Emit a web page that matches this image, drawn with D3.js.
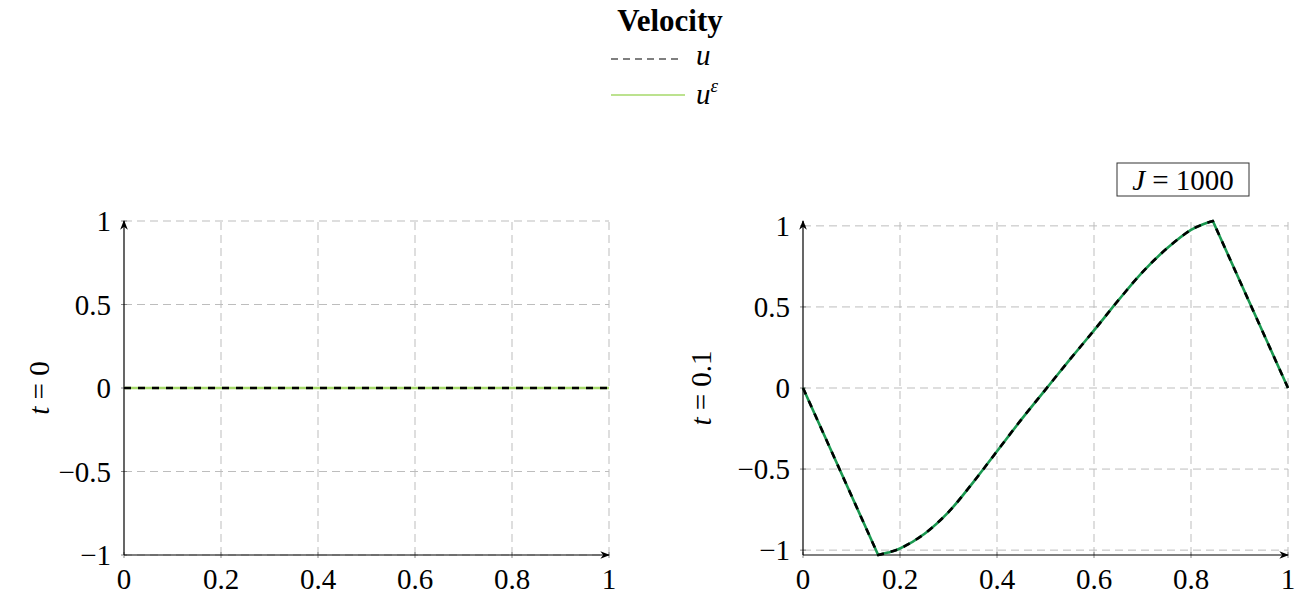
<!DOCTYPE html>
<html>
<head>
<meta charset="utf-8">
<script src="https://cdn.jsdelivr.net/npm/d3@7"></script>
<style>
  body { margin: 0; background: #fff; }
</style>
</head>
<body>
<div id="chart"></div>
<script>
// data
const xTicks = [0, 0.2, 0.4, 0.6, 0.8, 1]
const yTicks = [-1, -0.5, 0, 0.5, 1]

// t = 0 : everything is zero
const x0 = [0, 1]
const u0 = [0, 0]
const uEps0 = [0, 0]

// t = 0.1 (kinks at 0.155 and 0.845, smooth in between)
const x1 = [0, 0.155, 0.175, 0.2, 0.25, 0.3, 0.35, 0.4, 0.45, 0.5, 0.55, 0.6, 0.65, 0.7, 0.75, 0.8, 0.825, 0.845, 1]
const u1 = [0, -1.03, -1.015, -0.99, -0.9, -0.765, -0.585, -0.39, -0.195, -0.01, 0.175, 0.355, 0.54, 0.715, 0.86, 0.975, 1.01, 1.03, 0]
const uEps1 = [0, -1.03, -1.015, -0.99, -0.9, -0.765, -0.585, -0.39, -0.195, -0.01, 0.175, 0.355, 0.54, 0.715, 0.86, 0.975, 1.01, 1.03, 0]
const kinks = [0.155, 0.845]

const serif = '"Liberation Serif", "Times New Roman", serif'
const fs = 29

const svg = d3.select('#chart')
  .append('svg')
  .attr('width', 1312)
  .attr('height', 599)
  .attr('font-family', serif)

const defs = svg.append('defs')
defs.append('marker')
  .attr('id', 'arrow')
  .attr('viewBox', '0 0 10 10')
  .attr('refX', 9).attr('refY', 5)
  .attr('markerWidth', 8).attr('markerHeight', 8)
  .attr('orient', 'auto')
  .append('path')
  .attr('d', 'M0,1 L10,5 L0,9 L3,5 Z')
  .attr('fill', '#000')

// legend
svg.append('text')
  .attr('x', 670).attr('y', 31)
  .attr('text-anchor', 'middle')
  .attr('font-size', 31).attr('font-weight', 'bold')
  .text('Velocity')

svg.append('line')
  .attr('x1', 611).attr('x2', 682).attr('y1', 59).attr('y2', 59)
  .attr('stroke', '#555').attr('stroke-width', 1.3).attr('stroke-dasharray', '7,5')
svg.append('text')
  .attr('x', 696).attr('y', 65)
  .attr('font-size', fs).attr('font-style', 'italic')
  .text('u')

svg.append('line')
  .attr('x1', 611).attr('x2', 685).attr('y1', 95).attr('y2', 95)
  .attr('stroke', '#a6d96a').attr('stroke-width', 1.6)
const eps = svg.append('text')
  .attr('x', 696).attr('y', 104)
  .attr('font-size', fs).attr('font-style', 'italic')
eps.append('tspan').text('u')
eps.append('tspan').attr('font-size', 19).attr('dy', -12).text('ε')

function drawPanel(opts) {
  const x = d3.scaleLinear().domain([0, 1]).range([opts.left, opts.right])
  const y = d3.scaleLinear().domain([opts.ymin, opts.ymax]).range([opts.bottom, opts.top])
  const g = svg.append('g')

  // grid
  g.selectAll('.gx').data(xTicks.slice(1)).enter().append('line')
    .attr('x1', d => x(d)).attr('x2', d => x(d))
    .attr('y1', opts.bottom).attr('y2', opts.top)
    .attr('stroke', '#bdbdbd').attr('stroke-width', 1).attr('stroke-dasharray', '8,5')
  g.selectAll('.gy').data(yTicks).enter().append('line')
    .attr('x1', opts.left).attr('x2', opts.right)
    .attr('y1', d => y(d)).attr('y2', d => y(d))
    .attr('stroke', '#bdbdbd').attr('stroke-width', 1).attr('stroke-dasharray', '8,5')

  // tick marks
  g.selectAll('.tx').data(xTicks).enter().append('line')
    .attr('x1', d => x(d)).attr('x2', d => x(d))
    .attr('y1', opts.bottom - 3).attr('y2', opts.bottom + 3)
    .attr('stroke', '#888').attr('stroke-width', 1)
  g.selectAll('.ty').data(yTicks).enter().append('line')
    .attr('x1', opts.left - 3).attr('x2', opts.left + 3)
    .attr('y1', d => y(d)).attr('y2', d => y(d))
    .attr('stroke', '#888').attr('stroke-width', 1)

  // axes with arrows
  g.append('line')
    .attr('x1', opts.left).attr('x2', opts.right)
    .attr('y1', opts.bottom).attr('y2', opts.bottom)
    .attr('stroke', '#000').attr('stroke-width', 1.2)
    .attr('marker-end', 'url(#arrow)')
  g.append('line')
    .attr('x1', opts.left).attr('x2', opts.left)
    .attr('y1', opts.bottom).attr('y2', opts.top)
    .attr('stroke', '#000').attr('stroke-width', 1.2)
    .attr('marker-end', 'url(#arrow)')

  // tick labels
  g.selectAll('.lx').data(xTicks).enter().append('text')
    .attr('x', d => x(d)).attr('y', opts.bottom + 34)
    .attr('text-anchor', 'middle').attr('font-size', fs)
    .text(d => d3.format('')(d))
  g.selectAll('.ly').data(yTicks).enter().append('text')
    .attr('x', opts.left - 13).attr('y', d => y(d) + 10)
    .attr('text-anchor', 'end').attr('font-size', fs)
    .text(d => d < 0 ? '\u2212' + Math.abs(d) : d)

  // y label
  const lab = g.append('text')
    .attr('transform', `translate(${opts.labelX},${(opts.top + opts.bottom) / 2}) rotate(-90)`)
    .attr('text-anchor', 'middle').attr('font-size', fs)
  lab.append('tspan').attr('font-style', 'italic').text('t')
  lab.append('tspan').text(' = ' + opts.t)

  // straight pieces outside the kinks, smooth in between
  const pts = d3.zip(opts.xs, opts.u)
  const ptsE = d3.zip(opts.xs, opts.ueps)
  const lin = d3.line().x(d => x(d[0])).y(d => y(d[1]))
  const smooth = d3.line().x(d => x(d[0])).y(d => y(d[1])).curve(d3.curveCatmullRom)
  function pathOf(p) {
    if (!opts.kinks) return lin(p)
    const a = p.filter(d => d[0] <= opts.kinks[0])
    const b = p.filter(d => d[0] >= opts.kinks[0] && d[0] <= opts.kinks[1])
    const c = p.filter(d => d[0] >= opts.kinks[1])
    return lin(a) + smooth(b).replace(/^M/, 'L') + lin(c).replace(/^M/, 'L')
  }
  g.append('path')
    .attr('d', pathOf(ptsE))
    .attr('fill', 'none').attr('stroke', opts.green).attr('stroke-width', 2.6)
    .attr('stroke-linejoin', 'round')
  g.append('path')
    .attr('d', pathOf(pts))
    .attr('fill', 'none').attr('stroke', '#000').attr('stroke-width', 2.6)
    .attr('stroke-dasharray', '7,7')
  return { x, y }
}

drawPanel({ left: 124, right: 609, top: 221, bottom: 555, ymin: -1, ymax: 1,
  xs: x0, u: u0, ueps: uEps0, green: '#a6d96a', t: '0', labelX: 49 })

drawPanel({ left: 803, right: 1288, top: 221, bottom: 555, ymin: -1.03, ymax: 1.03,
  xs: x1, u: u1, ueps: uEps1, green: '#1a9850', t: '0.1', labelX: 711, kinks: kinks })

// J = 1000 box
svg.append('rect')
  .attr('x', 1117).attr('y', 163).attr('width', 132).attr('height', 33)
  .attr('fill', '#fff').attr('stroke', '#333').attr('stroke-width', 1)
const jt = svg.append('text')
  .attr('x', 1183).attr('y', 190)
  .attr('text-anchor', 'middle').attr('font-size', fs)
jt.append('tspan').attr('font-style', 'italic').text('J')
jt.append('tspan').text(' = 1000')
</script>
</body>
</html>
